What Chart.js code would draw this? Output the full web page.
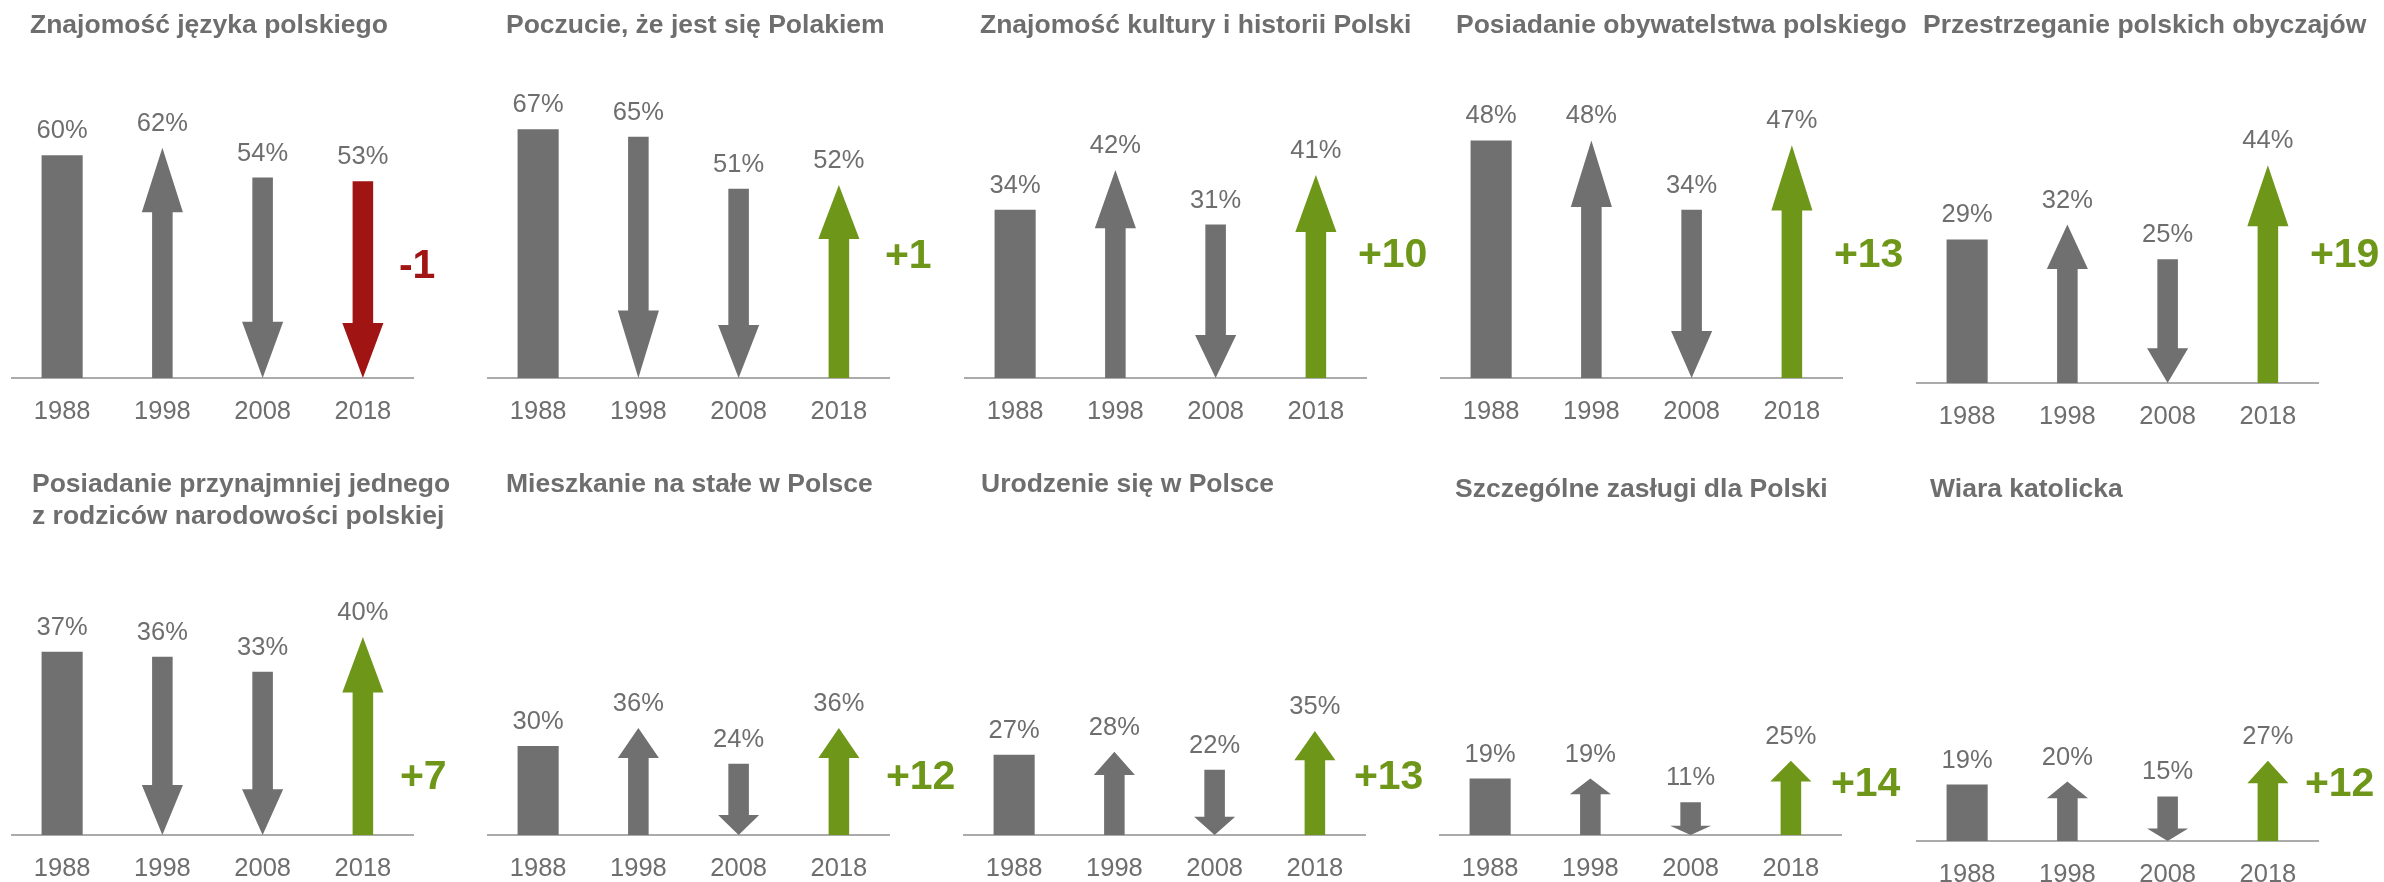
<!DOCTYPE html>
<html><head><meta charset="utf-8">
<script src="https://cdn.jsdelivr.net/npm/chart.js@4"></script>
<style>
html,body{margin:0;padding:0;background:#fff;overflow:hidden;width:2384px;height:882px;position:relative;}
canvas{position:absolute;}
</style></head><body>
<script>
// ---- data ----
const years = ['1988', '1998', '2008', '2018'];
const titles = [
  'Znajomość języka polskiego',
  'Poczucie, że jest się Polakiem',
  'Znajomość kultury i historii Polski',
  'Posiadanie obywatelstwa polskiego',
  'Przestrzeganie polskich obyczajów',
  'Posiadanie przynajmniej jednego\nz rodziców narodowości polskiej',
  'Mieszkanie na stałe w Polsce',
  'Urodzenie się w Polsce',
  'Szczególne zasługi dla Polski',
  'Wiara katolicka'
];
const jezyk       = [60, 62, 54, 53];
const poczucie    = [67, 65, 51, 52];
const kultura     = [34, 42, 31, 41];
const obywatel    = [48, 48, 34, 47];
const obyczaje    = [29, 32, 25, 44];
const rodzice     = [37, 36, 33, 40];
const mieszkanie  = [30, 36, 24, 36];
const urodzenie   = [27, 28, 22, 35];
const zaslugi     = [19, 19, 11, 25];
const wiara       = [19, 20, 15, 27];
const series = [jezyk, poczucie, kultura, obywatel, obyczaje, rodzice, mieszkanie, urodzenie, zaslugi, wiara];
const yMax = [80, 80, 60, 60, 60, 60, 100, 100, 100, 100];

// ---- layout / style ----
const GRAY = '#707070', GREEN = '#6e9619', RED = '#a01414', TEXT = '#6e6e6e', TITLE = '#6e6e6e', AXIS = '#ababab';
const FONT = "'Liberation Sans', Arial, Helvetica, sans-serif";
const CW = 540, CH = 441, PLOT_H = 297, AXIS_W = 401;
const panels = [
  {ax: 12,   row: 0, base: 378, tdx: 18, ty: 33, dx: 36, dy: 100},
  {ax: 488,  row: 0, base: 378, tdx: 18, ty: 33, dx: 46, dy: 110},
  {ax: 965,  row: 0, base: 378, tdx: 15, ty: 33, dx: 42, dy: 111},
  {ax: 1441, row: 0, base: 378, tdx: 15, ty: 33, dx: 42, dy: 111},
  {ax: 1917, row: 0, base: 383, tdx: 6,  ty: 33, dx: 42, dy: 116},
  {ax: 12,   row: 1, base: 394, tdx: 20, ty: 51, dx: 37, dy: 46},
  {ax: 488,  row: 1, base: 394, tdx: 18, ty: 51, dx: 47, dy: 46},
  {ax: 964,  row: 1, base: 394, tdx: 17, ty: 51, dx: 39, dy: 46},
  {ax: 1440, row: 1, base: 394, tdx: 15, ty: 56, dx: 40, dy: 39},
  {ax: 1917, row: 1, base: 400, tdx: 13, ty: 56, dx: 37, dy: 45}
];

Chart.defaults.font.family = FONT;

function drawArrow(ctx, x, yVal, yBase, w, up, color) {
  const len = Math.abs(yBase - yVal);
  const head = len * 0.28;
  const h = w / 2, s = w / 4;
  ctx.save();
  ctx.fillStyle = color;
  ctx.beginPath();
  if (up) {
    ctx.moveTo(x, yVal);
    ctx.lineTo(x + h, yVal + head);
    ctx.lineTo(x + s, yVal + head);
    ctx.lineTo(x + s, yBase);
    ctx.lineTo(x - s, yBase);
    ctx.lineTo(x - s, yVal + head);
    ctx.lineTo(x - h, yVal + head);
  } else {
    ctx.moveTo(x - s, yVal);
    ctx.lineTo(x + s, yVal);
    ctx.lineTo(x + s, yBase - head);
    ctx.lineTo(x + h, yBase - head);
    ctx.lineTo(x, yBase);
    ctx.lineTo(x - h, yBase - head);
    ctx.lineTo(x - s, yBase - head);
  }
  ctx.closePath();
  ctx.fill();
  ctx.restore();
}

const arrowPlugin = {
  id: 'arrows',
  afterDatasetsDraw(chart, args, opts) {
    const ctx = chart.ctx;
    const meta = chart.getDatasetMeta(0);
    const vals = chart.data.datasets[0].data;
    const area = chart.chartArea;
    let lastColor = GRAY, lastX = 0;
    meta.data.forEach((el, i) => {
      const {x, y, base, width} = el.getProps(['x', 'y', 'base', 'width'], true);
      if (i > 0) {
        const up = vals[i] >= vals[i - 1];
        const color = i === vals.length - 1 ? (up ? GREEN : RED) : GRAY;
        drawArrow(ctx, x, y, base, width, up, color);
        if (i === vals.length - 1) { lastColor = color; lastX = x; }
      }
      ctx.save();
      ctx.fillStyle = TEXT;
      ctx.font = '25.5px ' + FONT;
      ctx.textAlign = 'center';
      ctx.textBaseline = 'alphabetic';
      ctx.fillText(vals[i] + '%', x, y - 17);
      ctx.restore();
    });
    // change label
    const n = vals.length;
    const d = vals[n - 1] - vals[n - 2];
    ctx.save();
    ctx.fillStyle = lastColor;
    ctx.font = 'bold 41px ' + FONT;
    ctx.textAlign = 'left';
    ctx.textBaseline = 'alphabetic';
    ctx.fillText((d > 0 ? '+' : '') + d, lastX + opts.dx, area.bottom - opts.dy);
    // title
    ctx.fillStyle = TITLE;
    ctx.font = 'bold 26.5px ' + FONT;
    opts.title.split('\n').forEach((line, j) => {
      ctx.fillText(line, area.left + opts.tdx, opts.ty + j * 32);
    });
    ctx.restore();
  }
};

panels.forEach((p, k) => {
  const c = document.createElement('canvas');
  c.width = CW; c.height = CH;
  c.style.left = (p.ax - 12) + 'px';
  c.style.top = (p.row * 441) + 'px';
  document.body.appendChild(c);
  new Chart(c, {
    type: 'bar',
    data: {
      labels: years,
      datasets: [{
        data: series[k],
        backgroundColor: years.map((_, i) => i === 0 ? GRAY : 'rgba(0,0,0,0)'),
        borderWidth: 0,
        barPercentage: 0.41,
        categoryPercentage: 1
      }]
    },
    options: {
      responsive: false,
      animation: false,
      devicePixelRatio: 1,
      layout: {padding: {top: p.base - PLOT_H, left: 12, right: CW - 12 - AXIS_W, bottom: 0}},
      plugins: {
        legend: {display: false},
        tooltip: {enabled: false},
        arrows: {title: titles[k], tdx: p.tdx, ty: p.ty, dx: p.dx, dy: p.dy}
      },
      scales: {
        x: {
          grid: {display: false},
          border: {display: true, color: AXIS, width: 2},
          ticks: {color: TEXT, font: {size: 25.5}, padding: 11, maxRotation: 0, autoSkip: false},
          afterFit: (s) => { s.height = CH - p.base; }
        },
        y: {display: false, min: 0, max: yMax[k]}
      }
    },
    plugins: [arrowPlugin]
  });
});
</script>
</body></html>
